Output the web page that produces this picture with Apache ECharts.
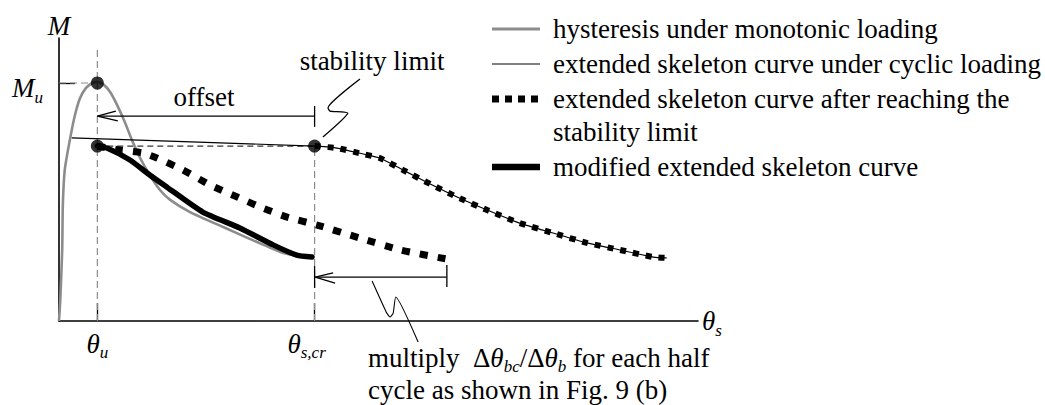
<!DOCTYPE html>
<html>
<head>
<meta charset="utf-8">
<script src="https://cdn.jsdelivr.net/npm/echarts@6/dist/echarts.min.js"></script>
<style>
  html, body { margin: 0; padding: 0; background: #fff; }
  #chart { width: 1045px; height: 405px; }
</style>
</head>
<body>
<div id="chart"></div>
<script>
// Rotation θs (0–100) vs. moment M (0–100), schematic units.

// Key abscissae and ordinates
const thetaTicks = [6, 40];                 // θu, θs,cr
const thetaTickSubs = ['u', 's,cr'];
const momentTicks = [84];                   // Mu
const momentTickSubs = ['u'];

// Hysteresis under monotonic loading
const monotonic = [
  [0, 0], [0.2, 7.4], [0.5, 25.1], [0.6, 41.0], [0.9, 53.4], [1.7, 64.0],
  [2.5, 72.8], [3.3, 78.8], [4.2, 82.3], [5.2, 84.1], [6.0, 84.5], [6.9, 83.7],
  [8.0, 80.9], [9.1, 76.3], [10.3, 70.3], [11.4, 64.0], [12.7, 57.6],
  [14.2, 51.6], [15.8, 46.3], [17.4, 42.8], [20.5, 38.5], [25.7, 33.2],
  [31.0, 27.9], [35.1, 24.0], [37.7, 23.0], [39.6, 22.6]
];

// Extended skeleton curve under cyclic loading (plateau, then decline)
const cyclicPlateau = [[2.0, 64.7], [40, 61.8]];
const afterLimit = [
  [40, 61.8], [43.5, 61.1], [47.6, 59.0], [50.2, 57.6], [53.8, 53.4],
  [58.1, 48.4], [62.3, 43.8], [67.0, 39.2], [72.1, 34.6], [77.3, 31.1],
  [82.6, 27.6], [87.8, 25.1], [93.0, 22.6], [95.1, 22.3]
];

// Post-limit branch moved back by the offset
const shiftedBranch = [
  [6.0, 61.8], [9.5, 60.4], [13.1, 59.4], [15.3, 57.6], [19.4, 53.4],
  [23.6, 48.1], [27.9, 43.8], [31.9, 39.9], [35.7, 36.7], [40.4, 33.9],
  [47.1, 29.3], [53.4, 25.1], [60.7, 21.9]
];

// Modified extended skeleton curve
const modified = [
  [6.0, 61.8], [7.5, 61.1], [11.1, 56.9], [14.2, 51.6], [16.9, 47.3],
  [22.5, 38.5], [28.3, 32.9], [33.5, 26.9], [37.2, 23.3], [39.6, 22.6]
];

// Marked points: peak, start of modified curve, stability limit
const keyPoints = [[6, 84.1], [6, 61.8], [40, 61.8]];

// Reference lines
const muGuide = [[0, 84.1], [6, 84.1]];
const thetaUGuide = [[6, 0], [6, 95.8]];
const thetaCrGuide = [[40, 0], [40, 61.8]];
const plateauGuide = [[6, 61.8], [40, 61.8]];

// Offset arrow and the per-half-cycle arrow
const offsetShaft = [[40, 72.4], [6, 72.4]];
const offsetHead = [[8.9, 74.2], [6, 72.4], [9.2, 70.7]];
const offsetBar = [[40, 76.0], [40, 68.6]];
const cycleShaft = [[60.7, 15.5], [40.1, 15.5]];
const cycleHead = [[42.9, 17.0], [40.1, 15.5], [43.2, 13.4]];
const cycleBarRight = [[60.7, 19.8], [60.7, 12.0]];
const cycleBarLeft = [[40, 19.4], [40, 11.7]];

// Break-line leaders of the two notes
const limitLeader = [[47.1, 85.5], [42.1, 75.3], [42.4, 74.2], [45.2, 73.5], [41.3, 65.0]];
const noteLeader = [[49.0, 14.1], [51.2, 3.2], [51.8, 1.4], [52.3, 2.8], [52.7, 8.5], [56.2, -7.4]];

const legendNames = [
  'hysteresis under monotonic loading',
  'extended skeleton curve under cyclic loading',
  'extended skeleton curve after reaching the\nstability limit',
  'modified extended skeleton curve'
];

const SERIF = "'Liberation Serif', 'Times New Roman', Times, serif";
const GREY = '#8c8c8c';

function path(data, lineStyle, z) {
  return {
    type: 'line', data, symbol: 'none', showSymbol: false, silent: true,
    clip: false, z: z || 2, lineStyle: Object.assign({ color: '#000', width: 1.2 }, lineStyle)
  };
}

// Italic symbol with a lowered subscript
const mathRich = {
  t: { fontFamily: SERIF, fontStyle: 'italic', fontSize: 27, verticalAlign: 'top', color: '#000' },
  s: { fontFamily: SERIF, fontStyle: 'italic', fontSize: 17, verticalAlign: 'top', color: '#000', padding: [14, 0, 0, 0] },
  sr: { fontFamily: SERIF, fontStyle: 'italic', fontSize: 17, verticalAlign: 'top', color: '#000', padding: [14, 16, 0, 0] }
};

const chart = echarts.init(document.getElementById('chart'), null, { renderer: 'svg' });

const legendY = [29, 64, 99, 167];
const legendStyles = [
  { stroke: GREY, lineWidth: 3 },
  { stroke: '#000', lineWidth: 1.2 },
  { stroke: '#000', lineWidth: 7, lineDash: [7, 6] },
  { stroke: '#000', lineWidth: 6.5 }
];
const legendGraphics = [];
legendNames.forEach((name, i) => {
  legendGraphics.push({
    type: 'line', shape: { x1: 492, y1: legendY[i], x2: 540, y2: legendY[i] },
    style: Object.assign({ lineCap: 'butt' }, legendStyles[i]), silent: true
  });
  legendGraphics.push({
    type: 'text', x: 553, y: legendY[i] - 16.5, silent: true,
    style: {
      text: name, fontFamily: SERIF, fontSize: 27, lineHeight: 33, fill: '#000',
      textAlign: 'left', textVerticalAlign: 'top', verticalAlign: 'top'
    }
  });
});

const noteRich = {
  n: { fontFamily: SERIF, fontSize: 27, verticalAlign: 'top', color: '#000' },
  i: { fontFamily: SERIF, fontStyle: 'italic', fontSize: 27, verticalAlign: 'top', color: '#000' },
  b: { fontFamily: SERIF, fontStyle: 'italic', fontSize: 17, verticalAlign: 'top', color: '#000', padding: [14, 0, 0, 0] }
};

chart.setOption({
  animation: false,
  backgroundColor: '#fff',
  grid: { left: 59, top: 38, width: 639, height: 283, containLabel: false },
  xAxis: {
    type: 'value', min: 0, max: 100,
    name: '{t|θ}{s|s}',
    nameLocation: 'end', nameGap: 4,
    nameTextStyle: { rich: mathRich, padding: [4, 0, 0, 0], verticalAlign: 'middle' },
    axisLine: { show: true, lineStyle: { color: '#000', width: 1.6 } },
    splitLine: { show: false },
    axisTick: { show: true, inside: true, length: 18, customValues: thetaTicks, lineStyle: { color: '#000', width: 1.3 } },
    axisLabel: {
      show: true, margin: 9, customValues: thetaTicks, rich: mathRich,
      formatter: v => {
        const k = thetaTicks.indexOf(v);
        return '{t|θ}{' + (k === 1 ? 'sr' : 's') + '|' + thetaTickSubs[k] + '}';
      }
    }
  },
  yAxis: {
    type: 'value', min: 0, max: 100,
    name: 'M', nameLocation: 'end', nameGap: -1,
    nameTextStyle: { fontFamily: SERIF, fontStyle: 'italic', fontSize: 27, color: '#000', align: 'center' },
    axisLine: { show: true, lineStyle: { color: '#000', width: 1.6 } },
    splitLine: { show: false },
    axisTick: { show: true, inside: true, length: 16, customValues: momentTicks, lineStyle: { color: '#000', width: 1.3 } },
    axisLabel: {
      show: true, margin: 16, customValues: momentTicks, rich: mathRich, padding: [14, 0, 0, 0],
      formatter: v => '{t|M}{s|' + momentTickSubs[momentTicks.indexOf(v)] + '}'
    }
  },
  series: [
    path(muGuide, { color: GREY, width: 1.2, type: [7, 4] }, 1),
    path(thetaUGuide, { color: GREY, width: 1.2, type: [7, 4] }, 1),
    path(thetaCrGuide, { color: GREY, width: 1.2, type: [7, 4] }, 1),
    path(plateauGuide, { color: '#000', width: 1, type: [6, 4] }, 1),
    Object.assign(path(monotonic, { color: GREY, width: 2.6 }, 2), { smooth: 0.2, name: legendNames[0] }),
    Object.assign(path(cyclicPlateau.concat(afterLimit.slice(1)), { width: 1.2 }, 3), { smooth: 0.2, name: legendNames[1] }),
    Object.assign(path(afterLimit, { width: 6, type: [6, 7], cap: 'butt' }, 4), { smooth: 0.2, name: legendNames[2] }),
    Object.assign(path(shiftedBranch, { width: 7, type: [8, 10], cap: 'butt' }, 4), { smooth: 0.2 }),
    Object.assign(path(modified, { width: 5.5, cap: 'round' }, 5), { smooth: 0.2, name: legendNames[3] }),
    path(offsetShaft, { width: 1.3 }, 3),
    path(offsetHead, { width: 1.3 }, 3),
    path(offsetBar, { width: 1.3 }, 3),
    path(cycleShaft, { width: 1.3 }, 3),
    path(cycleHead, { width: 1.3 }, 3),
    path(cycleBarRight, { width: 1.3 }, 3),
    path(cycleBarLeft, { width: 1.3 }, 3),
    Object.assign(path(limitLeader, { width: 1.3 }, 3), { smooth: 0.15 }),
    Object.assign(path(noteLeader, { width: 1.1 }, 3), { smooth: 0.15 }),
    {
      type: 'scatter', data: keyPoints, symbol: 'circle', symbolSize: 13, silent: true, z: 6,
      itemStyle: { color: '#000' }
    }
  ],
  graphic: legendGraphics.concat([
    {
      type: 'text', x: 204, y: 97, silent: true,
      style: { text: 'offset', fontFamily: SERIF, fontSize: 27, fill: '#000', textAlign: 'center', textVerticalAlign: 'middle', verticalAlign: 'middle' }
    },
    {
      type: 'text', x: 372, y: 61, silent: true,
      style: { text: 'stability limit', fontFamily: SERIF, fontSize: 27, fill: '#000', textAlign: 'center', textVerticalAlign: 'middle', verticalAlign: 'middle' }
    },
    {
      type: 'text', x: 368, y: 344, silent: true,
      style: {
        text: '{n|multiply  Δ}{i|θ}{b|bc}{n|/Δ}{i|θ}{b|b}{n| for each half}',
        rich: noteRich, textAlign: 'left', textVerticalAlign: 'top', verticalAlign: 'top'
      }
    },
    {
      type: 'text', x: 368, y: 376, silent: true,
      style: {
        text: 'cycle as shown in Fig. 9 (b)', fontFamily: SERIF, fontSize: 27, fill: '#000',
        textAlign: 'left', textVerticalAlign: 'top', verticalAlign: 'top'
      }
    }
  ])
});
</script>
</body>
</html>
